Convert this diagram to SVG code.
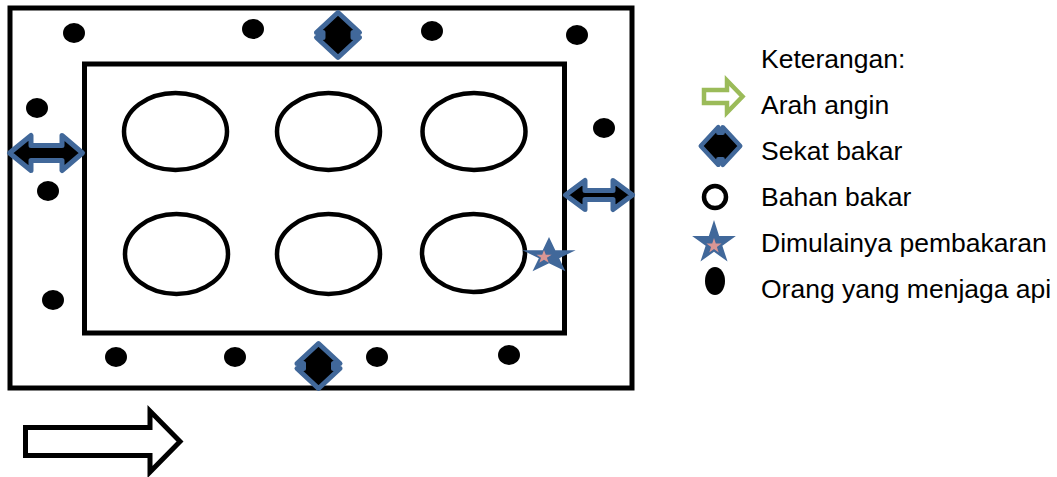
<svg xmlns="http://www.w3.org/2000/svg" xmlns:xlink="http://www.w3.org/1999/xlink" width="1057" height="477" viewBox="0 0 1057 477">
<style>
.frame{fill:none;stroke:#000;stroke-width:5}
.fuel{fill:#fff;stroke:#000;stroke-width:4.5}
.dot{fill:#000}
.sekat{fill:#000;stroke:#41689a;stroke-width:5;stroke-linejoin:round}
.star{fill:#41689a}
.star-in{fill:#d99694}
.lbl{font-family:"Liberation Sans",Arial,sans-serif;font-size:26.5px;fill:#000}
</style>
<defs>
<path id="vdia" d="M0,-22.5 L21.5,-2.5 L15,-2.5 L15,2.5 L21.5,2.5 L0,22.5 L-21.5,2.5 L-15,2.5 L-15,-2.5 L-21.5,-2.5 Z"/>
<polygon id="star" points="0,-1 0.2245,-0.309 0.951,-0.309 0.363,0.118 0.588,0.809 0,0.382 -0.588,0.809 -0.363,0.118 -0.951,-0.309 -0.2245,-0.309"/>
</defs>
<g id="outer-area"><rect class="frame" x="10" y="8" width="622" height="380"/></g>
<g id="inner-area"><rect class="frame" x="84.5" y="64" width="480" height="269"/></g>
<g id="fuel">
<ellipse class="fuel" cx="175.5" cy="131.5" rx="51.5" ry="38.5"/>
<ellipse class="fuel" cx="328.5" cy="131.5" rx="51.5" ry="38.5"/>
<ellipse class="fuel" cx="474" cy="131.5" rx="51.5" ry="38.5"/>
<ellipse class="fuel" cx="176.5" cy="254" rx="51.5" ry="40"/>
<ellipse class="fuel" cx="328.5" cy="254" rx="51.5" ry="40"/>
<ellipse class="fuel" cx="473.5" cy="253" rx="51.5" ry="39"/>
</g>
<g id="guards">
<ellipse class="dot" cx="74" cy="33" rx="11" ry="10"/>
<ellipse class="dot" cx="253" cy="29" rx="11" ry="10"/>
<ellipse class="dot" cx="432" cy="31" rx="11" ry="10"/>
<ellipse class="dot" cx="577" cy="35" rx="11" ry="10"/>
<ellipse class="dot" cx="37" cy="108" rx="11" ry="10"/>
<ellipse class="dot" cx="48" cy="191" rx="11" ry="10"/>
<ellipse class="dot" cx="53" cy="300" rx="11" ry="10"/>
<ellipse class="dot" cx="604" cy="128" rx="11" ry="10"/>
<ellipse class="dot" cx="116" cy="357" rx="11" ry="10"/>
<ellipse class="dot" cx="235" cy="357" rx="11" ry="10"/>
<ellipse class="dot" cx="377" cy="357" rx="11" ry="10"/>
<ellipse class="dot" cx="509" cy="355" rx="11" ry="10"/>
</g>
<g id="sekat-top"><use xlink:href="#vdia" href="#vdia" class="sekat" transform="translate(338,35)"/></g>
<g id="sekat-bottom"><use xlink:href="#vdia" href="#vdia" class="sekat" transform="translate(318.5,366)"/></g>
<g id="sekat-left"><path class="sekat" d="M9.5,153 L31,135.5 L31,145.5 L62,145.5 L62,135.5 L82.5,153 L62,170.5 L62,160.5 L31,160.5 L31,170.5 Z"/></g>
<g id="sekat-right"><path class="sekat" d="M565.5,195 L585,180.5 L585,190.5 L613,190.5 L613,180.5 L632.5,195 L613,209.5 L613,199.5 L585,199.5 L585,209.5 Z"/></g>
<g id="ignition">
<use xlink:href="#star" href="#star" class="star" transform="translate(549,256) scale(28,19)"/>
<use xlink:href="#star" href="#star" class="star-in" transform="translate(544,257) scale(8,7)"/>
</g>
<g id="wind-arrow"><path d="M25.5,427.5 L150,427.5 L150,411 L180,441.5 L150,472 L150,455.5 L25.5,455.5 Z" fill="#fff" stroke="#000" stroke-width="5"/></g>
<g id="legend">
<text class="lbl" x="761" y="68">Keterangan:</text>
<path d="M704,90 L727,90 L727,80.5 L742.5,96.5 L727,112.5 L727,103 L704,103 Z" fill="#fff" stroke="#9bbb59" stroke-width="4.5"/>
<text class="lbl" x="761" y="114">Arah angin</text>
<use xlink:href="#vdia" href="#vdia" class="sekat" transform="translate(720.5,146) rotate(90) scale(0.88)"/>
<text class="lbl" x="761" y="160">Sekat bakar</text>
<circle cx="715" cy="197" r="11" fill="#fff" stroke="#000" stroke-width="4.5"/>
<text class="lbl" x="761" y="206">Bahan bakar</text>
<use xlink:href="#star" href="#star" class="star" transform="translate(714,243) scale(23)"/>
<use xlink:href="#star" href="#star" class="star-in" transform="translate(714,246) scale(8)"/>
<text class="lbl" x="761" y="252">Dimulainya pembakaran</text>
<ellipse class="dot" cx="715" cy="281" rx="10" ry="14"/>
<text class="lbl" x="761" y="298">Orang yang menjaga api</text>
</g>
</svg>
